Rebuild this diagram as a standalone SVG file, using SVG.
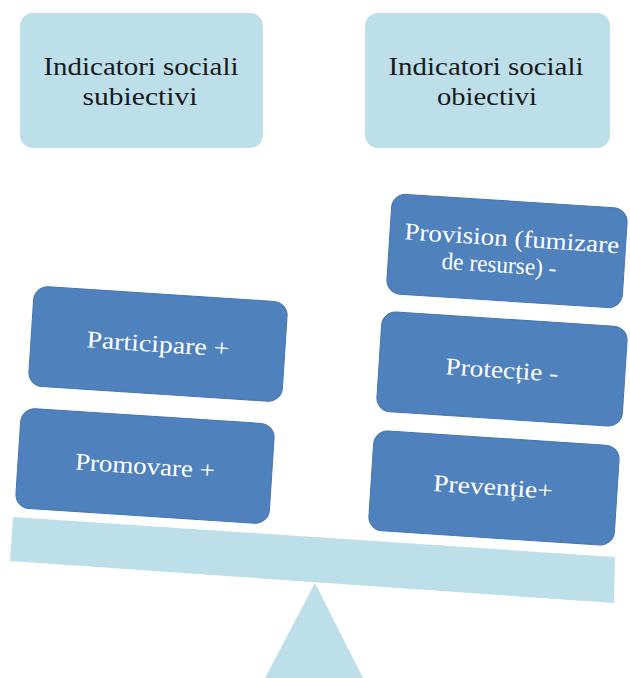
<svg xmlns="http://www.w3.org/2000/svg" width="630" height="678" viewBox="0 0 630 678">
<style>
.light{fill:#BCDFEA;}
.dark{fill:#4F81BD;stroke:#4677B2;stroke-width:1;}
.ttop{font-family:'Liberation Serif','DejaVu Serif',serif;font-size:26px;fill:#1A1A1A;text-anchor:middle;}
.tbox{font-family:'Liberation Serif','DejaVu Serif',serif;font-size:24px;fill:#FFFFFF;text-anchor:middle;}
</style>
<rect width="630" height="678" fill="#FFFFFF"/>
<g id="scale">
<polygon class="light" points="13,517 615,557 614,603 10,561"/>
<polygon class="light" points="315,583 363,678 265,678"/>
</g>
<g id="subiectivi">
<rect class="light" x="20" y="13" width="243" height="135" rx="13"/>
<text class="ttop" font-family="Liberation Serif, serif" x="141" y="75" textLength="195" lengthAdjust="spacingAndGlyphs">Indicatori sociali</text>
<text class="ttop" x="140" y="105" textLength="115" lengthAdjust="spacingAndGlyphs">subiectivi</text>
</g>
<g id="obiectivi">
<rect class="light" x="365" y="13" width="245" height="135" rx="13"/>
<text class="ttop" x="486" y="75" textLength="195" lengthAdjust="spacingAndGlyphs">Indicatori sociali</text>
<text class="ttop" x="487" y="105" textLength="100" lengthAdjust="spacingAndGlyphs">obiectivi</text>
</g>
<g id="participare" transform="translate(158,344) rotate(3.7)">
<rect class="dark" x="-127" y="-50" width="254" height="100" rx="14"/>
<text class="tbox" x="0" y="8" textLength="143" lengthAdjust="spacingAndGlyphs">Participare  +</text>
</g>
<g id="promovare" transform="translate(145,466) rotate(3.7)">
<rect class="dark" x="-127" y="-50" width="254" height="100" rx="14"/>
<text class="tbox" x="0" y="8" textLength="140" lengthAdjust="spacingAndGlyphs">Promovare +</text>
</g>
<g id="provision" transform="translate(507,251) rotate(3.7)">
<rect class="dark" x="-118" y="-50" width="236" height="100" rx="14"/>
<text class="tbox" x="4" y="-5" textLength="215" lengthAdjust="spacingAndGlyphs">Provision (fumizare</text>
<text class="tbox" x="-7" y="22" textLength="115" lengthAdjust="spacingAndGlyphs">de resurse) -</text>
</g>
<g id="protectie" transform="translate(502,369) rotate(3.7)">
<rect class="dark" x="-123" y="-50" width="246" height="100" rx="14"/>
<text class="tbox" x="0" y="9" textLength="113" lengthAdjust="spacingAndGlyphs">Protecție -</text>
</g>
<g id="preventie" transform="translate(494,488) rotate(3.7)">
<rect class="dark" x="-123" y="-50" width="246" height="100" rx="14"/>
<text class="tbox" x="-1" y="7" textLength="120" lengthAdjust="spacingAndGlyphs">Prevenție+</text>
</g>
<g id="connectors"></g>
</svg>
